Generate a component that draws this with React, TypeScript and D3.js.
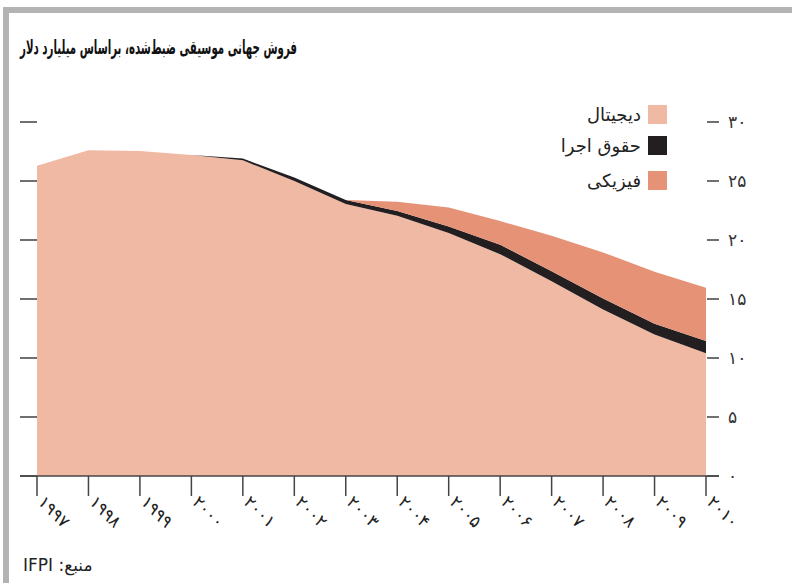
import React from "react";
import * as d3 from "d3";

const years = [1997, 1998, 1999, 2000, 2001, 2002, 2003, 2004, 2005, 2006, 2007, 2008, 2009, 2010];
const yearLabels = ["۱۹۹۷", "۱۹۹۸", "۱۹۹۹", "۲۰۰۰", "۲۰۰۱", "۲۰۰۲", "۲۰۰۳", "۲۰۰۴", "۲۰۰۵", "۲۰۰۶", "۲۰۰۷", "۲۰۰۸", "۲۰۰۹", "۲۰۱۰"];
// bottom layer (legend: دیجیتال)
const layerBottom = [26.3, 27.6, 27.55, 27.2, 26.75, 25.0, 23.05, 22.05, 20.6, 18.8, 16.5, 14.1, 12.0, 10.4];
// middle layer (legend: حقوق اجرا)
const layerMiddle = [0, 0, 0, 0, 0.15, 0.3, 0.35, 0.4, 0.55, 0.8, 0.85, 0.95, 0.9, 1.05];
// top layer (legend: فیزیکی)
const layerTop = [0, 0, 0, 0, 0, 0, 0, 0.8, 1.6, 2.0, 3.0, 3.9, 4.4, 4.5];
const yTicks = [0, 5, 10, 15, 20, 25, 30];
const yTickLabels = ["۰", "۵", "۱۰", "۱۵", "۲۰", "۲۵", "۳۰"];
const legendLabels = ["دیجیتال", "حقوق اجرا", "فیزیکی"];
const colors = ["#f0b9a4", "#231f20", "#e69277"];
const title = "فروش جهانی موسیقی ضبط‌شده، براساس میلیارد دلار";
const source = "\u202Bمنبع: IFPI\u202C";

export default function App() {
  const W = 792, H = 583;
  const x = d3.scaleLinear().domain([1997, 2010]).range([37, 706]);
  const y = d3.scaleLinear().domain([0, 30]).range([476, 122]);

  const rows = years.map((yr, i) => ({ yr, a: layerBottom[i], b: layerMiddle[i], c: layerTop[i] }));
  const stack = d3.stack<any>().keys(["a", "b", "c"])(rows);
  const area = d3
    .area<any>()
    .x((d) => x(d.data.yr))
    .y0((d) => y(d[0]))
    .y1((d) => y(d[1]))
    .curve(d3.curveLinear);

  const arabicFont = "'DejaVu Sans', 'Noto Sans', sans-serif";

  return (
    <svg width={W} height={H} style={{ position: "absolute", left: 0, top: 0, background: "#fff" }}>
      <rect x={0} y={0} width={W} height={H} fill="#fff" />
      {/* frame */}
      <rect x={3} y={7} width={W - 3} height={6} fill="#b3b3b3" />
      <rect x={3} y={7} width={6} height={H - 7} fill="#b3b3b3" />

      <text
        x={20}
        y={54}
        textAnchor="start"
        fontFamily={arabicFont}
        fontWeight="bold"
        fontSize={19.5}
        fill="#111"
        textLength={277}
        lengthAdjust="spacingAndGlyphs"
      >
        {title}
      </text>

      {stack.map((s, i) => (
        <path key={i} d={area(s) || ""} fill={colors[i]} />
      ))}

      {/* left ticks */}
      {yTicks.map((t) => (
        <line key={"l" + t} x1={20} x2={37} y1={y(t)} y2={y(t)} stroke="#222" strokeWidth={1.3} />
      ))}
      {/* right ticks */}
      {yTicks.map((t, i) => (
        <g key={"r" + t}>
          <line x1={707} x2={719} y1={y(t)} y2={y(t)} stroke="#222" strokeWidth={1.3} />
          <text x={728} y={y(t)} dy="0.35em" fontFamily={arabicFont} fontSize={17} fill="#333" letterSpacing={2}>
            {yTickLabels[i]}
          </text>
        </g>
      ))}

      {/* baseline */}
      <line x1={20} x2={719} y1={y(0)} y2={y(0)} stroke="#444" strokeWidth={1.5} />
      {years.map((yr, i) => (
        <g key={yr}>
          <line x1={x(yr)} x2={x(yr)} y1={y(0)} y2={y(0) + 20} stroke="#444" strokeWidth={1.5} />
          <text
            transform={`translate(${x(yr)},${y(0) + 27}) rotate(45)`}
            fontFamily={arabicFont}
            fontSize={17}
            fill="#222"
            letterSpacing={3}
          >
            {yearLabels[i]}
          </text>
        </g>
      ))}

      {/* legend */}
      {legendLabels.map((l, i) => {
        const yy = [105, 136, 171][i];
        return (
          <g key={l}>
            <rect x={648} y={yy} width={19} height={19} fill={colors[i]} />
            <text x={641} y={yy + 10} dy="0.35em" textAnchor="end" fontFamily={arabicFont} fontSize={18} fill="#222">
              {l}
            </text>
          </g>
        );
      })}

      <text x={23} y={571} fontFamily={arabicFont} fontSize={17} fill="#222">
        {source}
      </text>
    </svg>
  );
}
